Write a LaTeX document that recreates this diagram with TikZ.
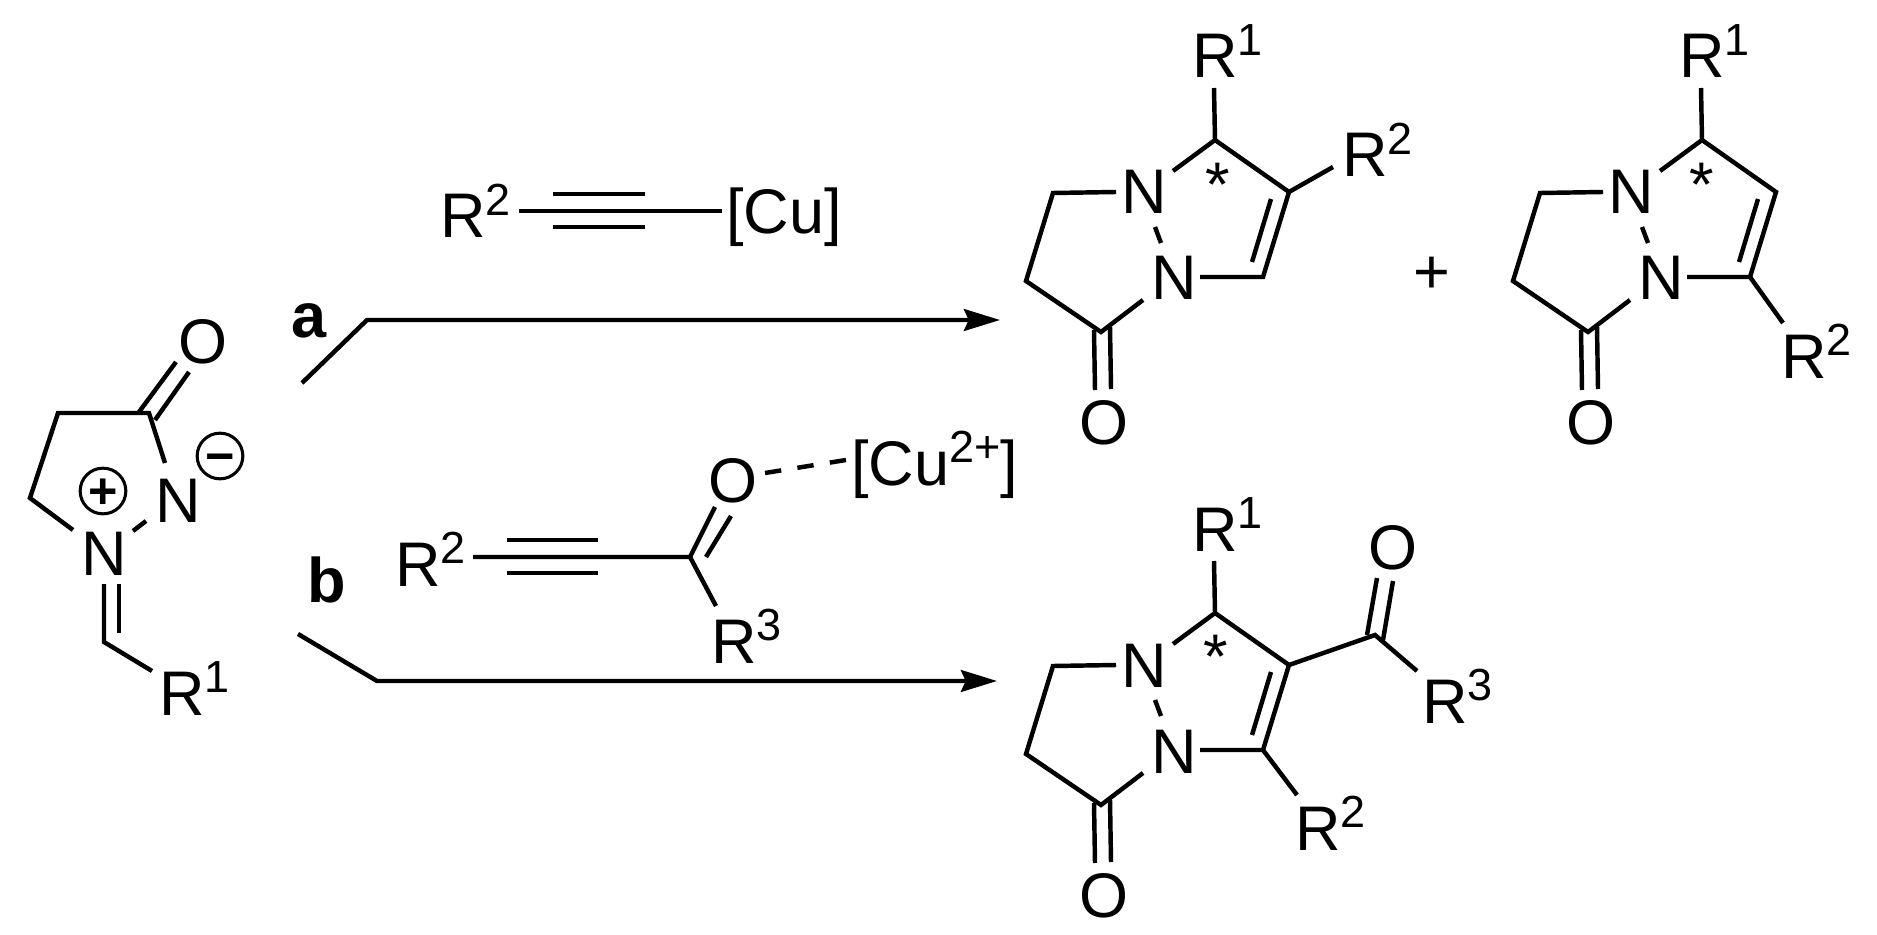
\documentclass[tikz,border=0pt]{standalone}
\usepackage{fontspec}
\setmainfont{Liberation Sans}
\usetikzlibrary{arrows.meta}
\newcommand{\bigsz}{\fontsize{53.8pt}{60pt}\selectfont}
\newcommand{\supsz}{\fontsize{38.4pt}{40pt}\selectfont}
\newcommand{\Rgroup}[1]{R\raisebox{18.8pt}{\supsz #1}}
\newcommand{\chgmark}[1]{{\fontsize{43pt}{46pt}\selectfont\bfseries\makebox[0pt]{\raisebox{-0.35em}[0pt][0pt]{#1}}}}
\tikzset{
  bond/.style={line width=3.8pt,line join=miter,line cap=butt},
  rxn/.style={line width=3.8pt,line join=miter,-{Stealth[length=30.7pt,width=18.5pt,inset=4pt]}},
  weak/.style={line width=3.8pt,dash pattern=on 14pt off 14pt},
  atom/.style={inner sep=0pt,anchor=base,font=\bigsz},
  label/.style={inner sep=0pt,anchor=base west,font=\bigsz},
  tag/.style={inner sep=0pt,anchor=base west,font=\bigsz\bfseries},
  chg/.style={circle,draw,line width=2.6pt,inner sep=0pt,minimum size=39pt}
}
% shared bicyclic core; names carry the prefix #1
\newcommand{\corering}[1]{
  \coordinate (#1c3) at (1215,140);
  \coordinate (#1c4) at (1289,192);
  \coordinate (#1c5) at (1263,277);
  \coordinate (#1c7) at (1053,193);
  \coordinate (#1c6) at (1026,281);
  \coordinate (#1c8) at (1101,332);
  \coordinate (#1n1l) at (1116,192);
  \coordinate (#1n1r) at (1173,171);
  \coordinate (#1n2l) at (1143,300);
  \coordinate (#1n2r) at (1200,277);
  \coordinate (#1d1) at (1155,227);
  \coordinate (#1d2) at (1161,243);
  \coordinate (#1i1) at (1252,262);
  \coordinate (#1i2) at (1271,199);
  \coordinate (#1r1) at (1214,88);
  \coordinate (#1oa1) at (1094,330);
  \coordinate (#1oa2) at (1095,390);
  \coordinate (#1ob1) at (1110,327);
  \coordinate (#1ob2) at (1111,389);
  \node[atom] (#1N1) at (1144,214) {N};
  \node[atom] (#1N2) at (1174,300) {N};
  \node[atom] (#1O) at (1104,444) {O};
  \node[label] (#1R1) at (1192,78) {\Rgroup{1}};
  \draw[bond] (#1n1l) -- (#1c7) -- (#1c6) -- (#1c8) -- (#1n2l);
  \draw[bond] (#1n1r) -- (#1c3) -- (#1c4) -- (#1c5) -- (#1n2r);
  \draw[bond] (#1d1) -- (#1d2);
  \draw[bond] (#1i1) -- (#1i2);
  \draw[bond] (#1r1) -- (#1c3);
  \draw[bond] (#1oa1) -- (#1oa2);
  \draw[bond] (#1ob1) -- (#1ob2);
}
\begin{document}
\begin{tikzpicture}[x=0.03cm,y=-0.03cm]
\useasboundingbox (0,0) rectangle (1877,935);

% starting material
\coordinate (sc4) at (58,413);
\coordinate (sc3) at (149,413);
\coordinate (sc5) at (30,498);
\coordinate (sn2t) at (165,463);
\coordinate (sn1l) at (73,530);
\coordinate (sd1) at (133,531);
\coordinate (sd2) at (146,521);
\coordinate (soa1) at (139,412);
\coordinate (soa2) at (176,362);
\coordinate (sob1) at (155,420);
\coordinate (sob2) at (189,372);
\coordinate (sia1) at (104,584);
\coordinate (sc6) at (104,642);
\coordinate (sib1) at (119,584);
\coordinate (sib2) at (119,633);
\coordinate (sr) at (152,671);
\node[atom] (sO) at (203,363) {O};
\node[atom] (sNm) at (178,522) {N};
\node[atom] (sNp) at (104,575) {N};
\node[label] (sR1) at (159,715) {\Rgroup{1}};
\node[chg] (plus) at (103,491) {\chgmark{+}};
\node[chg] (minus) at (220,456) {\chgmark{−}};
\draw[bond] (sn1l) -- (sc5) -- (sc4) -- (sc3) -- (sn2t);
\draw[bond] (sd1) -- (sd2);
\draw[bond] (soa1) -- (soa2);
\draw[bond] (sob1) -- (sob2);
\draw[bond] (sia1) -- (sc6) -- (sr);
\draw[bond] (sib1) -- (sib2);

% route a
\node[tag] (taga) at (291,338) {a};
\coordinate (a0) at (302,383);
\coordinate (a1) at (367,320);
\coordinate (a2) at (1000,320);
\draw[rxn] (a0) -- (a1) -- (a2);
\node[label] (aR2) at (440,238) {\Rgroup{2}};
\node[label] (aCu) at (726,234) {[Cu]};
\coordinate (at1) at (519,211);
\coordinate (at2) at (722,211);
\coordinate (at3) at (553,194);
\coordinate (at4) at (645,194);
\coordinate (at5) at (553,227);
\coordinate (at6) at (645,227);
\draw[bond] (at1) -- (at2);
\draw[bond] (at3) -- (at4);
\draw[bond] (at5) -- (at6);

% route b
\node[tag] (tagb) at (307,602) {b};
\coordinate (b0) at (298,634);
\coordinate (b1) at (377,681);
\coordinate (b2) at (997,681);
\draw[rxn] (b0) -- (b1) -- (b2);
\node[label] (bR2) at (395,586) {\Rgroup{2}};
\node[label] (bR3) at (711,663) {\Rgroup{3}};
\node[atom] (bO) at (733,502) {O};
\node[label] (bCu) at (851,485) {[Cu\raisebox{18.8pt}{\supsz 2+}]};
\coordinate (bt1) at (473,557);
\coordinate (bc) at (690,557);
\coordinate (bt3) at (507,540);
\coordinate (bt4) at (598,540);
\coordinate (bt5) at (507,573);
\coordinate (bt6) at (598,573);
\coordinate (bo1) at (715,507);
\coordinate (bo2) at (706,557);
\coordinate (bo3) at (731,516);
\coordinate (br3) at (716,606);
\coordinate (bw1) at (765,473);
\coordinate (bw2) at (846,460);
\draw[bond] (bt1) -- (bc) -- (br3);
\draw[bond] (bc) -- (bo1);
\draw[bond] (bo2) -- (bo3);
\draw[bond] (bt3) -- (bt4);
\draw[bond] (bt5) -- (bt6);
\draw[weak] (bw1) -- (bw2);

% product 1
\begin{scope}
  \corering{p}
  \coordinate (pr2) at (1333,167);
  \node[label] (pR2) at (1342,177) {\Rgroup{2}};
  \node[atom] (pstar) at (1218,207) {*};
  \draw[bond] (pc4) -- (pr2);
\end{scope}
\node[atom] (plussign) at (1432,294) {+};

% product 2
\begin{scope}[shift={(487,0)}]
  \corering{q}
  \coordinate (qr2) at (1296,323);
  \node[label] (qR2) at (1294,378) {\Rgroup{2}};
  \node[atom] (qstar) at (1215,207) {*};
  \draw[bond] (qc5) -- (qr2);
\end{scope}

% product 3
\begin{scope}[shift={(0,473)}]
  \corering{r}
  \coordinate (rr2) at (1297,322);
  \coordinate (rac) at (1375,162);
  \coordinate (rr3) at (1417,198);
  \coordinate (roa1) at (1367,162);
  \coordinate (roa2) at (1377,105);
  \coordinate (rob1) at (1383,167);
  \coordinate (rob2) at (1393,108);
  \node[label] (rR2) at (1295,377) {\Rgroup{2}};
  \node[label] (rR3) at (1422,250) {\Rgroup{3}};
  \node[atom] (rOa) at (1393,96) {O};
  \node[atom] (rstar) at (1216,205) {*};
  \draw[bond] (rc5) -- (rr2);
  \draw[bond] (rc4) -- (rac) -- (rr3);
  \draw[bond] (roa1) -- (roa2);
  \draw[bond] (rob1) -- (rob2);
\end{scope}
\end{tikzpicture}
\end{document}
